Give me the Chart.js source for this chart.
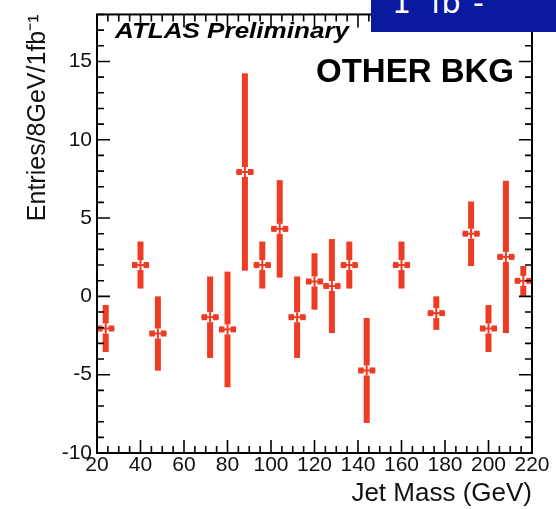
<!DOCTYPE html>
<html>
<head>
<meta charset="utf-8">
<title>Jet Mass - other background</title>
<script src="https://cdn.jsdelivr.net/npm/chart.js@4.4.1/dist/chart.umd.min.js"></script>
<style>
  body { margin: 0; background: #fff; }
  #wrap { position: relative; width: 556px; height: 509px; overflow: hidden; }
  #lumi {
    position: absolute; left: 371px; top: 0; width: 185px; height: 32px;
    background: #0a1aa0; overflow: hidden; color: #fff;
    font-family: "DejaVu Sans", sans-serif; font-size: 30px; line-height: 30px;
  }
  #lumi span { position: absolute; top: -12px; }
</style>
</head>
<body>
<div id="wrap">
  <canvas id="massChart" width="556" height="509"></canvas>
  <div id="lumi"><span style="left:21px">1</span><span style="left:60px">fb</span><span style="left:102px">-</span></div>
</div>
<script>
// bin centres (GeV), 8 GeV wide bins
const binCenters = [24, 40, 48, 72, 80, 88, 96, 104, 112, 120, 128, 136, 144, 160, 176, 192, 200, 208, 216];
const entries = [-2.05, 2.0, -2.37, -1.33, -2.11, 7.94, 2.0, 4.31, -1.33, 0.95, 0.66, 2.0, -4.73, 2.0, -1.07, 4.0, -2.05, 2.52, 0.99];
const errors = [1.5, 1.5, 2.37, 2.6, 3.69, 6.3, 1.5, 3.11, 2.6, 1.8, 3.0, 1.5, 3.35, 1.5, 1.07, 2.06, 1.5, 4.86, 0.95];
const binHalfWidth = 4;

const xTickLabels = [20, 40, 60, 80, 100, 120, 140, 160, 180, 200, 220];
const yTickLabels = [-10, -5, 0, 5, 10, 15];

const markerColor = '#ee3b23';
const font = 'Liberation Sans';

// ROOT-style markers: thick vertical error bar with a gap, thin cross, small squares
const errorBarPlugin = {
  id: 'errorBars',
  afterDatasetsDraw(chart) {
    const { ctx, scales: { x, y } } = chart;
    ctx.save();
    ctx.fillStyle = markerColor;
    chart.data.datasets[0].data.forEach(p => {
      const px = x.getPixelForValue(p.x);
      const py = y.getPixelForValue(p.y);
      const top = y.getPixelForValue(p.y + p.err);
      const bot = y.getPixelForValue(p.y - p.err);
      const hw = x.getPixelForValue(p.x + binHalfWidth) - px;
      const gap = 5;
      if (top < py - gap) ctx.fillRect(px - 3, top, 6, py - gap - top);
      if (bot > py + gap) ctx.fillRect(px - 3, py + gap, 6, bot - py - gap);
      ctx.fillRect(px - 1, py - gap, 2, gap * 2);
      ctx.fillRect(px - hw, py - 1, hw * 2, 2);
      ctx.fillRect(px - 8.5, py - 3, 5.5, 6);
      ctx.fillRect(px + 3, py - 3, 5.5, 6);
    });
    ctx.restore();
  }
};

// frame with inward ticks on all four sides, plus the labels inside the plot
const framePlugin = {
  id: 'frame',
  afterDraw(chart) {
    const { ctx, chartArea: a, scales: { x, y } } = chart;
    ctx.save();
    ctx.strokeStyle = '#000';
    ctx.lineWidth = 2;
    ctx.strokeRect(a.left, a.top, a.right - a.left, a.bottom - a.top);
    ctx.lineWidth = 1.6;
    ctx.beginPath();
    for (let v = x.min; v <= x.max; v += 5) {
      const px = x.getPixelForValue(v);
      const len = v % 20 === 0 ? 13 : 7;
      ctx.moveTo(px, a.bottom); ctx.lineTo(px, a.bottom - len);
      ctx.moveTo(px, a.top); ctx.lineTo(px, a.top + len);
    }
    for (let v = y.min; v <= y.max; v += 1) {
      const py = y.getPixelForValue(v);
      const len = v % 5 === 0 ? 13 : 7;
      ctx.moveTo(a.left, py); ctx.lineTo(a.left + len, py);
      ctx.moveTo(a.right, py); ctx.lineTo(a.right - len, py);
    }
    ctx.stroke();

    ctx.fillStyle = '#000';
    ctx.textBaseline = 'alphabetic';
    const atlas = 'ATLAS Preliminary';
    ctx.font = 'italic bold 22px "' + font + '"';
    const w = ctx.measureText(atlas).width;
    ctx.save();
    ctx.translate(115, 38);
    ctx.scale(234 / w, 1);
    ctx.fillText(atlas, 0, 0);
    ctx.restore();

    ctx.font = 'bold 33px "' + font + '"';
    ctx.textAlign = 'right';
    ctx.fillText('OTHER BKG', 514, 82);
    ctx.restore();
  }
};

new Chart(document.getElementById('massChart'), {
  type: 'scatter',
  data: {
    datasets: [{
      label: 'Other background',
      data: binCenters.map((c, i) => ({ x: c, y: entries[i], err: errors[i] })),
      pointRadius: 0,
      pointHoverRadius: 0
    }]
  },
  options: {
    responsive: false,
    animation: false,
    layout: { padding: { top: 10, right: 24, left: 0, bottom: 0 } },
    plugins: { legend: { display: false }, tooltip: { enabled: false } },
    scales: {
      x: {
        type: 'linear', min: 20, max: 220,
        grid: { display: false, drawTicks: false },
        border: { display: false },
        afterBuildTicks: s => { s.ticks = xTickLabels.map(v => ({ value: v })); },
        afterFit: s => { s.height = 56; },
        ticks: { padding: 3, color: '#111', maxRotation: 0, autoSkip: false,
                 font: { family: font, size: 21, lineHeight: 0.9 } },
        title: { display: true, text: 'Jet Mass (GeV)', align: 'end', color: '#111', padding: 0,
                 font: { family: font, size: 26, lineHeight: 1.2 } }
      },
      y: {
        type: 'linear', min: -10, max: 18,
        grid: { display: false, drawTicks: false },
        border: { display: false },
        afterBuildTicks: s => { s.ticks = yTickLabels.map(v => ({ value: v })); },
        afterFit: s => { s.width = 97; },
        ticks: { padding: 5, color: '#111', autoSkip: false,
                 font: { family: font, size: 21, lineHeight: 0.9 } },
        title: { display: true, text: 'Entries/8GeV/1fb⁻¹', align: 'end', color: '#111',
                 padding: { top: 23, bottom: 0 },
                 font: { family: font, size: 25, lineHeight: 1.2 } }
      }
    }
  },
  plugins: [errorBarPlugin, framePlugin]
});
</script>
</body>
</html>
